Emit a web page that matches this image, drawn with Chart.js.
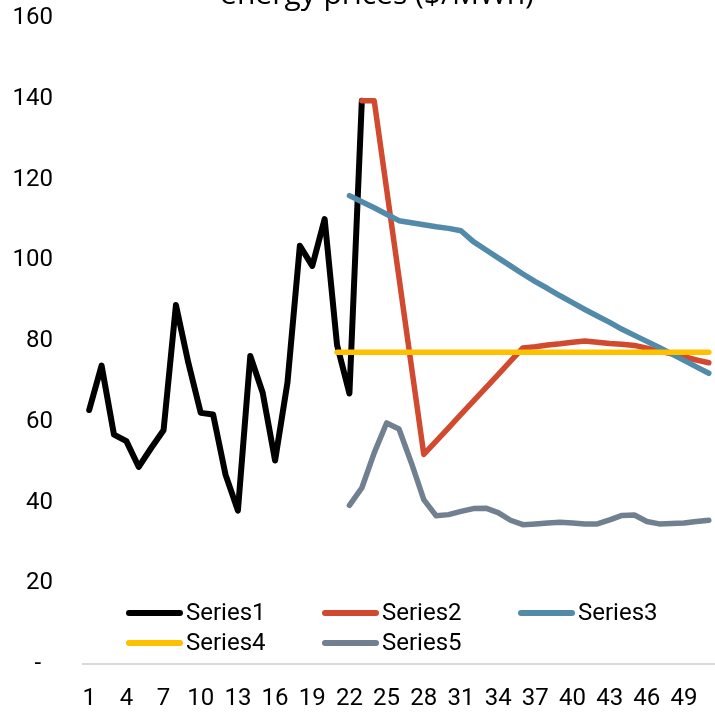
<!doctype html>
<html lang="en">
<head>
  <meta charset="utf-8">
  <title>energy prices ($/MWh)</title>
  <script src="https://cdn.jsdelivr.net/npm/chart.js@4.4.1/dist/chart.umd.min.js"></script>
  <style>
    body { margin: 0; background: #fff; }
    #wrap { width: 715px; height: 712px; position: relative; }
  </style>
</head>
<body>
  <div id="wrap"><canvas id="myChart"></canvas></div>
  <script>
    // categories 1..51
    const labels = [1, 2, 3, 4, 5, 6, 7, 8, 9, 10, 11, 12, 13, 14, 15, 16, 17, 18, 19, 20,
      21, 22, 23, 24, 25, 26, 27, 28, 29, 30, 31, 32, 33, 34, 35, 36, 37, 38, 39, 40,
      41, 42, 43, 44, 45, 46, 47, 48, 49, 50, 51];

    const series1 = [62.9, 73.9, 56.8, 55.2, 48.8, 53.5, 57.9, 88.9, 74.6, 62.2,
      61.8, 46.9, 38.0, 76.3, 67.2, 50.4, 69.7, 103.6, 98.6, 110.2,
      79.0, 67.0, 139.5,
      null, null, null, null, null, null, null, null, null, null, null, null, null, null,
      null, null, null, null, null, null, null, null, null, null, null, null, null, null];

    const series2 = [null, null, null, null, null, null, null, null, null, null, null,
      null, null, null, null, null, null, null, null, null, null, null,
      139.5, 139.5, 117.6, 95.7, 73.8, 51.9, 55.2, 58.5, 61.8, 65.1,
      68.4, 71.7, 75.0, 78.3, 78.6, 79.0, 79.3, 79.7, 80.0, 79.7,
      79.4, 79.2, 78.9, 78.2, 77.5, 76.8, 76.1, 75.3, 74.6];

    const series3 = [null, null, null, null, null, null, null, null, null, null, null,
      null, null, null, null, null, null, null, null, null, null,
      116.0, 114.5, 113.0, 111.4, 109.8, 109.3, 108.8, 108.3, 107.9, 107.3,
      104.6, 102.6, 100.6, 98.6, 96.6, 94.7, 93.0, 91.2, 89.5, 87.8,
      86.2, 84.6, 82.9, 81.4, 79.9, 78.4, 76.8, 75.2, 73.6, 72.0];

    const series4 = [null, null, null, null, null, null, null, null, null, null,
      null, null, null, null, null, null, null, null, null, null,
      77.2, 77.2, 77.2, 77.2, 77.2, 77.2, 77.2, 77.2, 77.2, 77.2, 77.2,
      77.2, 77.2, 77.2, 77.2, 77.2, 77.2, 77.2, 77.2, 77.2, 77.2,
      77.2, 77.2, 77.2, 77.2, 77.2, 77.2, 77.2, 77.2, 77.2, 77.2];

    const series5 = [null, null, null, null, null, null, null, null, null, null, null,
      null, null, null, null, null, null, null, null, null, null,
      39.3, 43.6, 52.3, 59.7, 58.2, 49.8, 40.7, 36.7, 37.0, 37.8,
      38.5, 38.6, 37.5, 35.6, 34.5, 34.7, 34.9, 35.1, 34.9, 34.7,
      34.7, 35.7, 36.8, 36.9, 35.3, 34.7, 34.8, 34.9, 35.3, 35.6];

    const seriesNames = ['Series1', 'Series2', 'Series3', 'Series4', 'Series5'];
    const seriesColors = ['#000000', '#D14A2F', '#528BAA', '#FFC000', '#718090'];
    const yTicks = [0, 20, 40, 60, 80, 100, 120, 140, 160];

    const allSeries = [series1, series2, series3, series4, series5];

    // legend sits inside the plot, like the excel one
    const insideLegend = {
      id: 'insideLegend',
      afterDraw(chart) {
        const ctx = chart.ctx;
        ctx.save();
        ctx.font = '24px Roboto';
        ctx.textAlign = 'left';
        ctx.textBaseline = 'middle';
        chart.data.datasets.forEach((ds, i) => {
          const x = 126 + (i % 3) * 196;
          const y = 613 + Math.floor(i / 3) * 30;
          ctx.strokeStyle = ds.borderColor;
          ctx.lineWidth = 6;
          ctx.lineCap = 'round';
          ctx.beginPath();
          ctx.moveTo(x + 3, y);
          ctx.lineTo(x + 54, y);
          ctx.stroke();
          ctx.fillStyle = '#000';
          ctx.fillText(ds.label, x + 60, y + 1);
        });
        // title is clipped by the top edge
        ctx.font = '30px "Open Sans"';
        ctx.textAlign = 'center';
        ctx.textBaseline = 'alphabetic';
        ctx.fillStyle = '#000';
        ctx.fillText('energy prices ($/MWh)', 377, 4);
        ctx.restore();
      }
    };

    const ctx = document.getElementById('myChart').getContext('2d');
    const chart = new Chart(ctx, {
      type: 'line',
      data: {
        labels: labels,
        datasets: allSeries.map((s, i) => ({
          label: seriesNames[i],
          data: s,
          borderColor: seriesColors[i],
          backgroundColor: seriesColors[i],
          borderWidth: i === 0 ? 6 : 5.5,
          pointRadius: 0,
          tension: 0,
          borderJoinStyle: 'round',
          borderCapStyle: 'round',
          order: 5 - i
        }))
      },
      options: {
        responsive: true,
        maintainAspectRatio: false,
        animation: false,
        layout: { padding: { top: 18, left: 0, right: 0, bottom: 0 } },
        plugins: {
          legend: { display: false },
          tooltip: { enabled: false },
          title: { display: false }
        },
        scales: {
          x: {
            offset: true,
            grid: { display: false, drawTicks: false },
            border: { display: true, color: '#d9d9d9', width: 2 },
            ticks: {
              autoSkip: false,
              maxRotation: 0,
              padding: 21,
              color: '#000',
              font: { family: 'Roboto', size: 24 },
              callback: (val, idx) => idx % 3 === 0 ? labels[idx] : ''
            },
            afterFit: (scale) => {
              scale.height = 48;
              scale.paddingLeft = 0;
              scale.paddingRight = 0;
            }
          },
          y: {
            min: 0,
            max: 160,
            grid: { display: false, drawTicks: false },
            border: { display: false },
            afterBuildTicks: (scale) => { scale.ticks = yTicks.map(v => ({ value: v })); },
            ticks: {
              padding: 30,
              color: '#000',
              font: { family: 'Roboto', size: 24 },
              callback: (v) => v === 0 ? '-  ' : v
            },
            afterFit: (scale) => {
              scale.width = 83;
              scale.paddingTop = 0;
              scale.paddingBottom = 0;
            }
          }
        }
      },
      plugins: [insideLegend]
    });
  </script>
</body>
</html>
